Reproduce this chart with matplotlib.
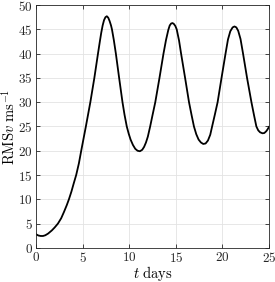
import matplotlib
matplotlib.use("Agg")
import matplotlib.pyplot as plt
from matplotlib.ticker import FuncFormatter

plt.rcParams['mathtext.fontset'] = 'cm'
plt.rcParams['font.family'] = ['DejaVu Serif']

# values
t_days = [0.0, 0.25, 0.5, 0.75, 1.0, 1.3, 1.7, 2.0, 2.35, 2.7, 3.0, 3.3,
          3.53, 3.8, 4.05, 4.31, 4.6, 4.85, 5.1, 5.35, 5.83, 6.26, 6.65,
          6.85, 7.0, 7.15, 7.3, 7.45, 7.6, 7.75, 7.9, 8.05, 8.15, 8.35,
          8.57, 8.92, 9.28, 9.5, 9.74, 9.95, 10.15, 10.4, 10.65, 10.9,
          11.15, 11.4, 11.6, 11.8, 12.0, 12.25, 12.5, 12.8, 13.25, 13.68,
          13.95, 14.2, 14.35, 14.5, 14.65, 14.8, 14.95, 15.1, 15.35, 15.57,
          16.0, 16.42, 16.7, 16.95, 17.2, 17.45, 17.7, 17.95, 18.2, 18.45,
          18.7, 18.9, 19.2, 19.49, 19.91, 20.34, 20.6, 20.85, 21.1, 21.3,
          21.5, 21.7, 21.95, 22.22, 22.65, 23.12, 23.4, 23.65, 23.85,
          24.05, 24.3, 24.5, 24.7, 24.85, 25.0]
rms_v = [2.8, 2.55, 2.45, 2.45, 2.6, 2.95, 3.6, 4.2, 5.0, 6.1, 7.4, 8.8,
         10.0, 11.6, 13.3, 15.0, 17.4, 20.0, 22.5, 25.0, 30.0, 35.0, 40.0,
         42.5, 44.3, 45.8, 46.9, 47.5, 47.7, 47.4, 46.7, 45.8, 45.0, 42.8,
         40.0, 35.0, 30.0, 27.4, 25.0, 23.5, 22.3, 21.2, 20.4, 20.0,
         19.9, 20.2, 20.8, 21.7, 22.9, 25.0, 27.3, 30.0, 35.0, 40.0,
         42.8, 44.9, 45.8, 46.2, 46.3, 46.1, 45.7, 45.0, 42.7, 40.0,
         35.0, 30.0, 27.3, 25.0, 23.4, 22.3, 21.7, 21.4, 21.5, 22.1,
         23.3, 25.0, 27.5, 30.0, 35.0, 40.0, 42.9, 44.6, 45.4, 45.6,
         45.4, 44.7, 43.0, 40.0, 35.0, 30.0, 27.3, 25.0, 24.2,
         23.8, 23.6, 23.65, 24.0, 24.4, 24.9]

xticks = [0, 5, 10, 15, 20, 25]
yticks = [0, 5, 10, 15, 20, 25, 30, 35, 40, 45, 50]

fig = plt.figure(figsize=(2.75, 2.82), dpi=100)
ax = fig.add_axes([0.131, 0.121, 0.847, 0.861])

ax.plot(t_days, rms_v, color='black', linewidth=1.3)

ax.set_xlim(0, 25)
ax.set_ylim(0, 50)
ax.set_xticks(xticks)
ax.set_yticks(yticks)
fmt = FuncFormatter(lambda v, p: r'$%d$' % v)
ax.xaxis.set_major_formatter(fmt)
ax.yaxis.set_major_formatter(fmt)
ax.tick_params(direction='in', top=True, right=True, length=3, width=0.6,
               labelsize=9.5, colors='#262626', pad=2.5)
ax.grid(True, color='#e3e3e3', linewidth=0.6)
ax.set_axisbelow(True)
for s in ax.spines.values():
    s.set_color('#262626')
    s.set_linewidth(0.6)

ax.set_xlabel(r'$t\ \mathrm{days}$', fontsize=10.5, labelpad=-1)
ax.set_ylabel(r'$\mathrm{RMS}v\ \mathrm{ms}^{-1}$', fontsize=10.5, labelpad=0)

fig.savefig('out.png', dpi=100)
